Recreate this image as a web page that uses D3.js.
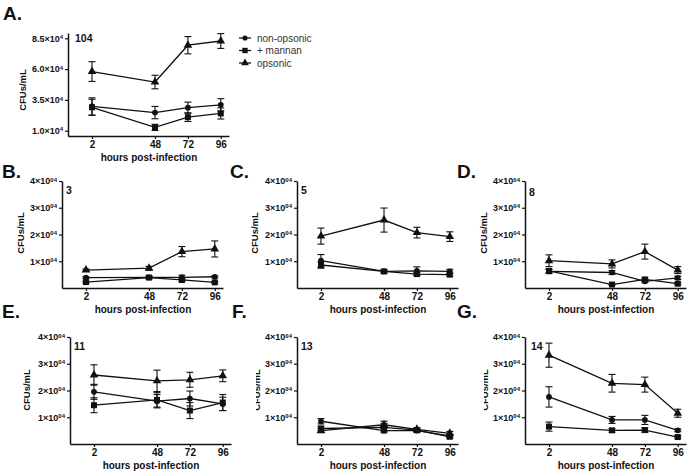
<!DOCTYPE html>
<html><head><meta charset="utf-8">
<script src="https://cdn.jsdelivr.net/npm/d3@7"></script>
<style>body{margin:0;background:#fff} svg{display:block} text{font-family:"Liberation Sans",Arial,sans-serif}</style>
</head><body><svg id="c" width="689" height="473"></svg>
<script>
const hours = [2, 48, 72, 96];
const panelLetters = ["A.", "B.", "C.", "D.", "E.", "F.", "G."];
const strainLabels = ["104", "3", "5", "8", "11", "13", "14"];
const seriesNames = ["non-opsonic", "+ mannan", "opsonic"];
const yTicksA = [10000, 35000, 60000, 85000];
const yTickLabelsA = [["1.0×10", "4"], ["3.5×10", "4"], ["6.0×10", "4"], ["8.5×10", "4"]];
const yTicksSmall = [10000, 20000, 30000, 40000];
const yTickLabelsSmall = [["1×10", "04"], ["2×10", "04"], ["3×10", "04"], ["4×10", "04"]];

// CFUs/mL means and error bars, one row per panel A..G, columns = hours
const nonOpsonicMean = [
  [29700, 24700, 28700, 31000],
  [3900, 4000, 4000, 4200],
  [10200, 6200, 6400, 6200],
  [6200, 5800, 2500, 3800],
  [19500, 16000, 17000, 15000],
  [8500, 5000, 5000, 3000],
  [17600, 9000, 9000, 5100]
];
const nonOpsonicErr = [
  [7000, 5000, 4500, 5000],
  [300, 500, 800, 400],
  [2300, 600, 1500, 800],
  [800, 700, 500, 600],
  [2800, 2500, 2800, 2500],
  [1000, 800, 600, 500],
  [3800, 1300, 1700, 500]
];
const mannanMean = [
  [29000, 12700, 21000, 24000],
  [2200, 3900, 3000, 2100],
  [8600, 6200, 5200, 5000],
  [6400, 1300, 3200, 1600],
  [14500, 16500, 12500, 15500],
  [5800, 6200, 5200, 2700],
  [6500, 5100, 5200, 2600]
];
const mannanErr = [
  [6500, 2500, 3500, 4500],
  [300, 500, 600, 300],
  [1200, 600, 600, 600],
  [600, 200, 600, 400],
  [2800, 2700, 3000, 3000],
  [800, 1500, 800, 500],
  [1700, 700, 800, 400]
];
const opsonicMean = [
  [58000, 49500, 79400, 82800],
  [6700, 7400, 13600, 14600],
  [19400, 25400, 20700, 19200],
  [10200, 9000, 13600, 6700],
  [25800, 23600, 24000, 25500],
  [5000, 7200, 5500, 4000],
  [33200, 22700, 22200, 11500]
];
const opsonicErr = [
  [8000, 5500, 7000, 6000],
  [400, 700, 1900, 3000],
  [3000, 4500, 2000, 1800],
  [2200, 1500, 2800, 1300],
  [3800, 4000, 2800, 2200],
  [800, 1300, 600, 700],
  [4500, 3300, 2800, 1500]
];

// layout (pixel geometry only)
const layout = [
  {ax: 68, yTop: 33, yBot: 136, dom: [5700, 89300], letter: [3, 20], num: [75, 42], ylab: [26, 90], clip: false},
  {ax: 62, yTop: 181, yBot: 288, dom: [0, 40000], letter: [2, 178], num: [66, 194], ylab: [24, 233], clip: false},
  {ax: 297, yTop: 181, yBot: 288, dom: [0, 40000], letter: [230, 178], num: [301, 194], ylab: [258, 233], clip: false},
  {ax: 525, yTop: 181, yBot: 288, dom: [0, 40000], letter: [457, 178], num: [529, 196], ylab: [487, 233], clip: false},
  {ax: 70, yTop: 337, yBot: 444, dom: [0, 40000], letter: [2, 318], num: [74, 350], ylab: [30, 390], clip: false},
  {ax: 297, yTop: 337, yBot: 444, dom: [0, 40000], letter: [232, 318], num: [301, 350], ylab: [260, 390], clip: true},
  {ax: 525, yTop: 337, yBot: 444, dom: [0, 40000], letter: [457, 318], num: [531, 350], ylab: [488, 390], clip: true}
];

const series = [
  {name: seriesNames[0], mean: nonOpsonicMean, err: nonOpsonicErr, sym: d3.symbolCircle, size: 26},
  {name: seriesNames[1], mean: mannanMean, err: mannanErr, sym: d3.symbolSquare, size: 36},
  {name: seriesNames[2], mean: opsonicMean, err: opsonicErr, sym: d3.symbolTriangle, size: 32}
];

const svg = d3.select("#c");
const defs = svg.append("defs");
const ink = "#111";

layout.forEach((L, i) => {
  const g = svg.append("g");
  const x = d3.scaleLinear().domain([-15.5, 102]).range([L.ax, L.ax + 161]);
  const y = d3.scaleLinear().domain(L.dom).range([L.yBot, L.yTop]);

  const xa = g.append("g").attr("transform", `translate(0,${L.yBot})`)
    .call(d3.axisBottom(x).tickValues(hours).tickSize(3).tickPadding(2).tickSizeOuter(0));
  xa.selectAll("text").attr("font-size", 10).attr("font-weight", "bold").attr("fill", ink);

  const ticks = i === 0 ? yTicksA : yTicksSmall;
  const tlabels = i === 0 ? yTickLabelsA : yTickLabelsSmall;
  const ya = g.append("g").attr("transform", `translate(${L.ax},0)`)
    .call(d3.axisLeft(y).tickValues(ticks).tickSize(3).tickPadding(2).tickSizeOuter(0).tickFormat(""));
  ya.selectAll(".tick text").each(function(d) {
    const t = d3.select(this).attr("font-size", 9).attr("font-weight", "bold").attr("fill", ink);
    const lab = tlabels[ticks.indexOf(d)];
    t.append("tspan").text(lab[0]);
    t.append("tspan").attr("dy", "-0.45em").attr("font-size", 6).text(lab[1]);
  });
  g.selectAll(".domain").attr("stroke", ink).attr("stroke-width", 1.5);
  g.selectAll(".tick line").attr("stroke", ink).attr("stroke-width", 1.2);

  // titles
  g.append("text").attr("x", L.ax + 81).attr("y", L.yBot + 25).attr("text-anchor", "middle")
    .attr("font-size", 10).attr("font-weight", "bold").attr("fill", ink).text("hours post-infection");
  const yl = g.append("text").attr("transform", `translate(${L.ylab[0]},${L.ylab[1]}) rotate(-90)`)
    .attr("text-anchor", "middle").attr("font-size", 9.5).attr("font-weight", "bold").attr("fill", ink).text("CFUs/mL");
  if (L.clip) {
    const id = "clipY" + i;
    defs.append("clipPath").attr("id", id).append("rect")
      .attr("x", L.ylab[0] - 4).attr("y", L.ylab[1] - 30).attr("width", 8).attr("height", 60);
    yl.attr("clip-path", null);
    g.append("g").attr("clip-path", `url(#${id})`).node().appendChild(yl.node());
  }
  g.append("text").attr("x", L.letter[0]).attr("y", L.letter[1]).attr("font-size", 19)
    .attr("font-weight", "bold").attr("fill", ink).text(panelLetters[i]);
  g.append("text").attr("x", L.num[0]).attr("y", L.num[1]).attr("font-size", 10.5)
    .attr("font-weight", "bold").attr("fill", ink).text(strainLabels[i]);

  const line = d3.line().x((d, k) => x(hours[k])).y(d => y(d));
  series.forEach(s => {
    g.append("path").attr("d", line(s.mean[i])).attr("fill", "none").attr("stroke", ink).attr("stroke-width", 1.3);
  });
  series.forEach(s => {
    s.mean[i].forEach((m, k) => {
      const e = s.err[i][k], cx = x(hours[k]);
      const y1 = y(m - e), y2 = y(m + e);
      g.append("line").attr("x1", cx).attr("x2", cx).attr("y1", y1).attr("y2", y2).attr("stroke", ink).attr("stroke-width", 1.1);
      [y1, y2].forEach(yy => g.append("line").attr("x1", cx - 3.5).attr("x2", cx + 3.5).attr("y1", yy).attr("y2", yy).attr("stroke", ink).attr("stroke-width", 1.1));
    });
  });
  series.forEach(s => {
    g.selectAll(null).data(s.mean[i]).enter().append("path")
      .attr("transform", (d, k) => `translate(${x(hours[k])},${y(d)})`)
      .attr("d", d3.symbol(s.sym, s.size)).attr("fill", ink);
  });
});

// legend for panel A
const leg = svg.append("g").attr("transform", "translate(239,38)");
series.forEach((s, k) => {
  const r = leg.append("g").attr("transform", `translate(0,${k * 12.5})`);
  r.append("line").attr("x1", 0).attr("x2", 12).attr("stroke", ink).attr("stroke-width", 1.3);
  r.append("path").attr("transform", "translate(6,0)").attr("d", d3.symbol(s.sym, s.size * 0.8)).attr("fill", ink);
  r.append("text").attr("x", 18).attr("y", 3.5).attr("font-size", 10).attr("fill", "#333").text(s.name);
});
</script></body></html>
